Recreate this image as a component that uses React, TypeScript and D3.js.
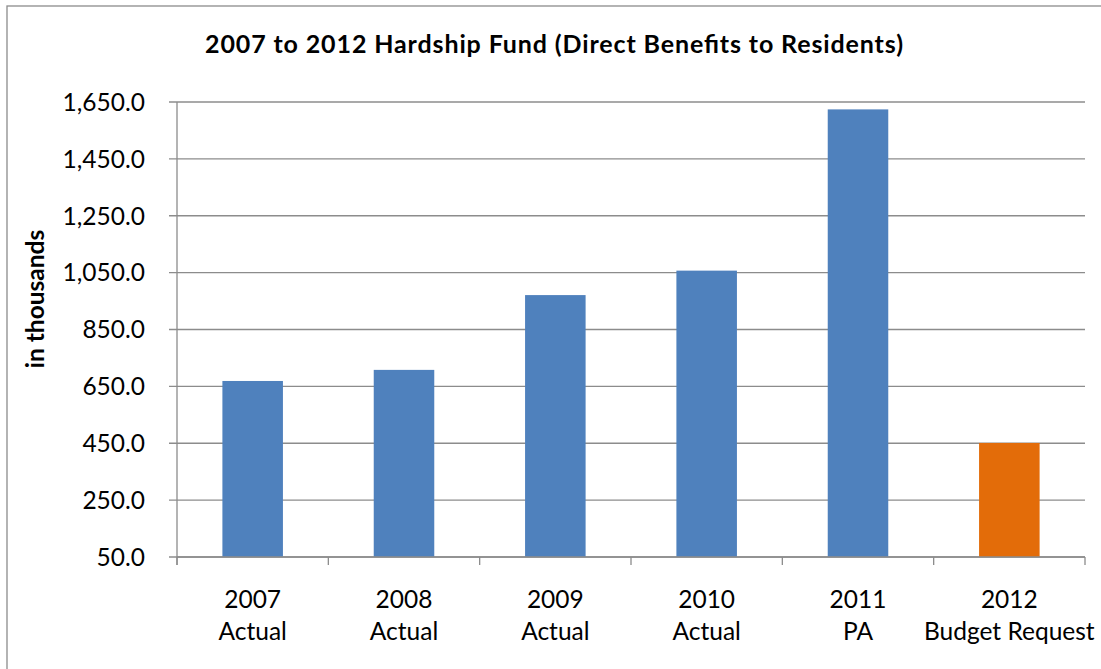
import React from "react";
import * as d3 from "d3";

const categories: string[][] = [
  ["2007", "Actual"],
  ["2008", "Actual"],
  ["2009", "Actual"],
  ["2010", "Actual"],
  ["2011", "PA"],
  ["2012", "Budget Request"],
];
const values: number[] = [669, 708, 971, 1057, 1624, 451];
const barColors: string[] = ["#4F81BD", "#4F81BD", "#4F81BD", "#4F81BD", "#4F81BD", "#E36C09"];
const yTicks: number[] = [50, 250, 450, 650, 850, 1050, 1250, 1450, 1650];
const title = "2007 to 2012 Hardship Fund (Direct Benefits to Residents)";
const yTitle = "in thousands";

const W = 1101;
const H = 669;
const left = 177;
const right = 1085;
const top = 102;
const bottom = 557;
const font = "Lato, 'Open Sans', sans-serif";
const gridColor = "#8c8c8c";

export default function App() {
  const x = d3
    .scaleBand<number>()
    .domain(d3.range(categories.length))
    .range([left, right])
    .paddingInner(0)
    .paddingOuter(0);
  const y = d3.scaleLinear().domain([50, 1650]).range([bottom, top]);
  const fmt = d3.format(",.1f");
  const bw = x.bandwidth() * 0.4;

  return (
    <svg
      width={W}
      height={H}
      style={{ position: "absolute", left: 0, top: 0, background: "#fff" }}
    >
      <rect x={7} y={6} width={W + 10} height={H + 10} fill="#fff" stroke="#8c8c8c" strokeWidth={1.3} />
      <text
        x={(205 + 903) / 2}
        y={53}
        textAnchor="middle"
        fontFamily={font}
        fontWeight="bold"
        fontSize={25}
        textLength={698}
        lengthAdjust="spacing"
        fill="#000"
      >
        {title}
      </text>
      <text
        transform={`translate(44,299) rotate(-90)`}
        textAnchor="middle"
        fontFamily={font}
        fontWeight="bold"
        fontSize={24.5}
        fill="#000"
      >
        {yTitle}
      </text>
      {yTicks.map((t) => (
        <g key={t}>
          <line x1={169} x2={right} y1={y(t)} y2={y(t)} stroke={gridColor} strokeWidth={1.3} />
          <text
            x={145}
            y={y(t)}
            dy="0.36em"
            textAnchor="end"
            fontFamily={font}
            fontSize={24.5}
            fill="#000"
          >
            {fmt(t)}
          </text>
        </g>
      ))}
      {values.map((v, i) => (
        <rect
          key={i}
          x={(x(i) as number) + (x.bandwidth() - bw) / 2}
          y={y(v)}
          width={bw}
          height={y(50) - y(v)}
          fill={barColors[i]}
        />
      ))}
      <line x1={left} x2={left} y1={top} y2={bottom + 8} stroke={gridColor} strokeWidth={1.3} />
      <line x1={left} x2={right} y1={bottom} y2={bottom} stroke={gridColor} strokeWidth={1.3} />
      {d3.range(categories.length + 1).map((i) => {
        const xx = i < categories.length ? (x(i) as number) : right;
        return <line key={i} x1={xx} x2={xx} y1={bottom} y2={bottom + 8} stroke={gridColor} strokeWidth={1.3} />;
      })}
      {categories.map((c, i) => (
        <text
          key={i}
          x={(x(i) as number) + x.bandwidth() / 2}
          textAnchor="middle"
          fontFamily={font}
          fontSize={24.5}
          fill="#000"
        >
          <tspan x={(x(i) as number) + x.bandwidth() / 2} y={608}>
            {c[0]}
          </tspan>
          <tspan x={(x(i) as number) + x.bandwidth() / 2} y={640}>
            {c[1]}
          </tspan>
        </text>
      ))}
    </svg>
  );
}
